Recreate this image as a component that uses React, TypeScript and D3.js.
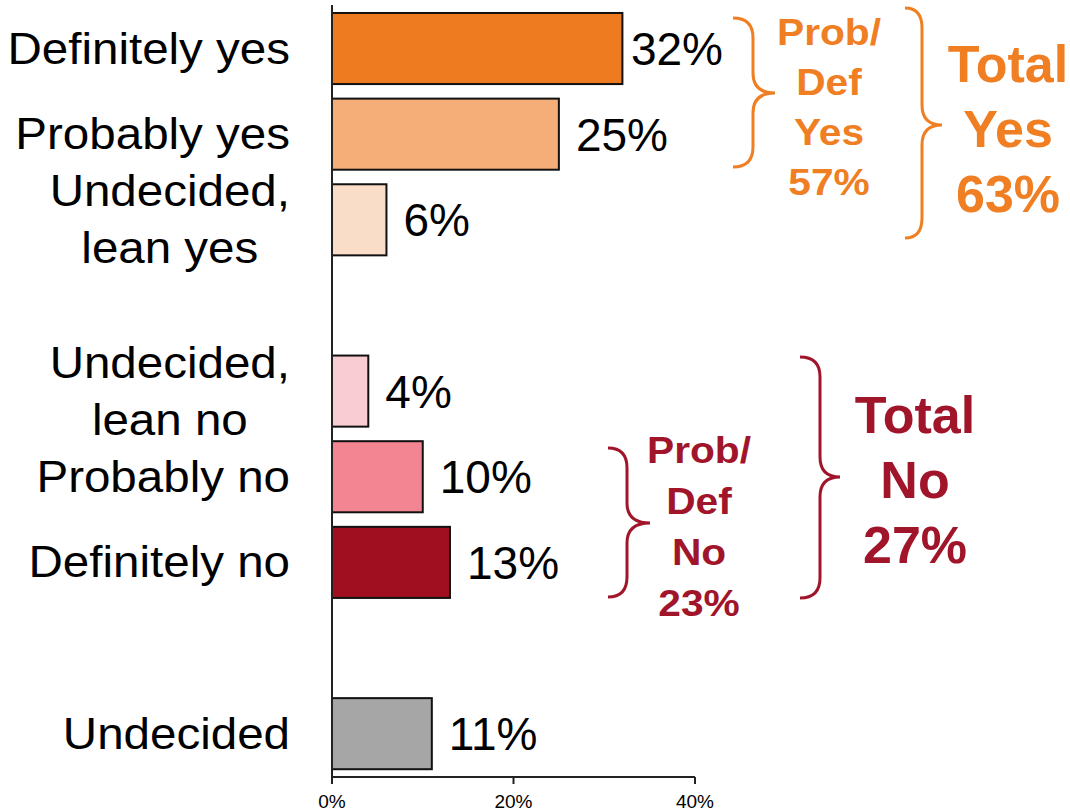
import React from 'react';
import * as d3 from 'd3';

const categories = [
  'Definitely yes',
  'Probably yes',
  'Undecided,\nlean yes',
  'Undecided,\nlean no',
  'Probably no',
  'Definitely no',
  'Undecided',
];
const values = [32, 25, 6, 4, 10, 13, 11];
const barColors = ['#EF7B20', '#F5AE78', '#FADDC8', '#F9CCD4', '#F28591', '#A00F1F', '#A6A6A6'];
// row order with empty rows between the groups
const rows = [categories[0], categories[1], categories[2], 'gap-1', categories[3], categories[4], categories[5], 'gap-2', categories[6]];
const ticks = [0, 20, 40];

const ORANGE = '#F07E22';
const RED = '#A1152A';

// bracket annotations: [x tips, x spine, x point, y top, y mid, y bottom]
const braces = [
  { c: ORANGE, g: [733, 753, 775, 18, 93, 167] },
  { c: ORANGE, g: [905, 922, 942, 8, 125, 238] },
  { c: RED, g: [608, 627, 650, 448, 523, 597] },
  { c: RED, g: [800, 820, 840, 357, 477, 598] },
];
const notes = [
  { c: ORANGE, x: 829, y: 32, size: 37, gap: 50, lines: ['Prob/', 'Def', 'Yes', '57%'] },
  { c: ORANGE, x: 1008, y: 63, size: 52, gap: 65, lines: ['Total', 'Yes', '63%'] },
  { c: RED, x: 699, y: 450, size: 37, gap: 51, lines: ['Prob/', 'Def', 'No', '23%'] },
  { c: RED, x: 915, y: 414, size: 52, gap: 65, lines: ['Total', 'No', '27%'] },
];

export default function App() {
  const ref = React.useRef<SVGSVGElement>(null);

  React.useEffect(() => {
    document.body.style.margin = '0';
    const svg = d3.select(ref.current);
    svg.selectAll('*').remove();
    const font = 'Liberation Sans, Arial, sans-serif';

    const x = d3.scaleLinear().domain([0, 40]).range([332, 695]);
    const y = d3.scaleBand().domain(rows).range([5.7, 776.5]).paddingInner(0.17).paddingOuter(0.085);

    // bars
    svg.selectAll('.bar')
      .data(categories)
      .enter().append('rect')
      .attr('x', x(0))
      .attr('y', d => y(d)!)
      .attr('width', (d, i) => x(values[i]) - x(0))
      .attr('height', y.bandwidth())
      .attr('fill', (d, i) => barColors[i])
      .attr('stroke', '#111')
      .attr('stroke-width', 2);

    // value labels, kept inside the plot width
    categories.forEach((c, i) => {
      const t = svg.append('text')
        .attr('y', y(c)! + y.bandwidth() / 2 + 16.5)
        .attr('font-family', font)
        .attr('font-size', 46)
        .attr('fill', '#000')
        .text(`${values[i]}%`);
      const w = (t.node() as SVGTextElement).getComputedTextLength();
      t.attr('x', Math.min(x(values[i]) + 17, 723 - w));
    });

    // category labels, block right aligned, lines centered
    categories.forEach(c => {
      const lines = c.split('\n');
      const g = svg.append('g');
      const cy = y(c)! + y.bandwidth() / 2;
      lines.forEach((l, j) => {
        g.append('text')
          .attr('transform', `translate(0,${cy + (j - (lines.length - 1) / 2) * 57 + 15}) scale(1.08,1)`)
          .attr('text-anchor', 'middle')
          .attr('font-family', font)
          .attr('font-size', 44)
          .attr('fill', '#000')
          .text(l);
      });
      const bb = (g.node() as SVGGElement).getBBox();
      g.attr('transform', `translate(${290 - (bb.x + bb.width)},0)`);
    });

    // axes
    const axisColor = '#222';
    svg.append('line')
      .attr('x1', x(0)).attr('x2', x(0))
      .attr('y1', 5).attr('y2', 777)
      .attr('stroke', axisColor).attr('stroke-width', 2);
    svg.append('line')
      .attr('x1', x(0)).attr('x2', x(40))
      .attr('y1', 777).attr('y2', 777)
      .attr('stroke', axisColor).attr('stroke-width', 2);
    svg.selectAll('.tick')
      .data(ticks)
      .enter().append('line')
      .attr('x1', d => x(d)).attr('x2', d => x(d))
      .attr('y1', 777).attr('y2', 784)
      .attr('stroke', axisColor).attr('stroke-width', 2);
    svg.selectAll('.tickl')
      .data(ticks)
      .enter().append('text')
      .attr('x', d => x(d))
      .attr('y', 808)
      .attr('text-anchor', 'middle')
      .attr('font-family', font)
      .attr('font-size', 19)
      .attr('fill', '#000')
      .text(d => `${d}%`);

    // braces
    braces.forEach(({ c, g }) => {
      const [x0, xm, xp, yt, ym, yb] = g;
      const r = 20;
      const p = d3.path();
      p.moveTo(x0, yt);
      p.quadraticCurveTo(xm, yt, xm, yt + r);
      p.lineTo(xm, ym - r);
      p.quadraticCurveTo(xm, ym, xp, ym);
      p.quadraticCurveTo(xm, ym, xm, ym + r);
      p.lineTo(xm, yb - r);
      p.quadraticCurveTo(xm, yb, x0, yb);
      svg.append('path')
        .attr('d', p.toString())
        .attr('fill', 'none')
        .attr('stroke', c)
        .attr('stroke-width', 3);
    });

    notes.forEach(n => {
      const sx = n.size < 45 ? 1.1 : 1;
      n.lines.forEach((l, j) => {
        svg.append('text')
          .attr('transform', `translate(${n.x},${n.y + j * n.gap + n.size * 0.36}) scale(${sx},1)`)
          .attr('text-anchor', 'middle')
          .attr('font-family', font)
          .attr('font-weight', 'bold')
          .attr('font-size', n.size)
          .attr('fill', n.c)
          .text(l);
      });
    });
  }, []);

  return <svg ref={ref} width={1070} height={812} style={{ display: 'block' }} />;
}
